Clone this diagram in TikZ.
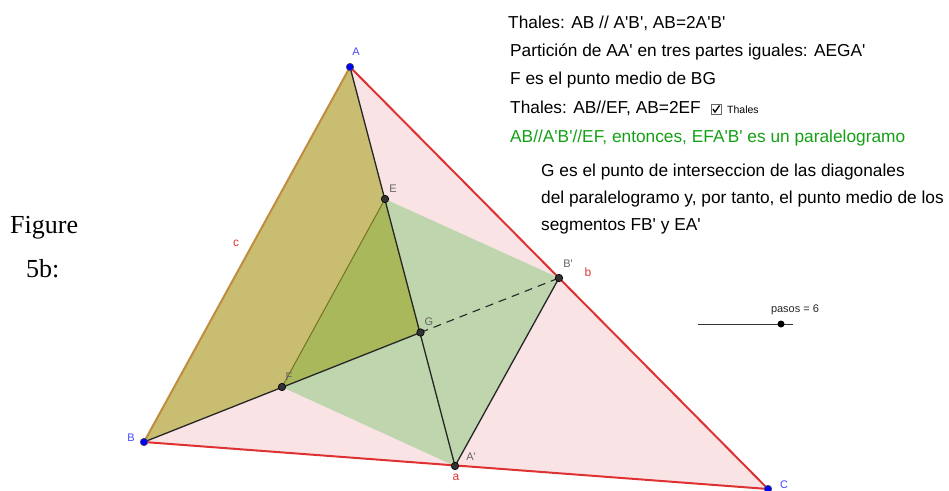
\documentclass[tikz,border=0pt]{standalone}
\usepackage{fontspec}
\setmainfont{Liberation Sans}[Ligatures=TeXOff]
\newfontfamily\figserif{Liberation Serif}
\definecolor{pinkfill}{RGB}{250,227,229}
\definecolor{olivefill}{RGB}{200,189,112}
\definecolor{greenfill}{RGB}{190,213,174}
\definecolor{darkolive}{RGB}{169,184,90}
\definecolor{redline}{RGB}{222,50,50}
\definecolor{abline}{RGB}{192,140,62}
\definecolor{efline}{RGB}{115,115,35}
\definecolor{txtgreen}{RGB}{20,160,20}
\definecolor{ptblue}{RGB}{0,0,255}
\definecolor{ptgray}{RGB}{50,50,50}
\definecolor{lblblue}{RGB}{70,70,255}
\definecolor{lblgray}{RGB}{100,100,100}
\definecolor{lblred}{RGB}{225,55,55}
\tikzset{
  bluedot/.style={circle,fill=ptblue,draw=black!70,line width=0.6pt,inner sep=0pt,minimum size=7.5pt},
  graydot/.style={circle,fill=ptgray,draw=black,line width=0.6pt,inner sep=0pt,minimum size=7.5pt},
  lbl/.style={inner sep=0pt,font=\fontsize{11}{13}\selectfont},
  maintxt/.style={anchor=base west,inner sep=0pt,font=\fontsize{17.3}{20}\selectfont},
  redseg/.style={draw=redline,line width=2pt},
  blackseg/.style={draw=black!85,line width=1.3pt},
}
\begin{document}
\begin{tikzpicture}[x=1pt,y=-1pt]
\useasboundingbox (0,0) rectangle (949,490);
% points
\coordinate (A) at (350,67);
\coordinate (B) at (144,442);
\coordinate (C) at (768,489);
\coordinate (A1) at (455,466);
\coordinate (B1) at (559,278);
\coordinate (E) at (385,199);
\coordinate (G) at (420.5,332.5);
\coordinate (F) at (282,387);
% fills
\fill[pinkfill] (A) -- (B) -- (C) -- cycle;
\fill[olivefill] (A) -- (B) -- (G) -- cycle;
\fill[greenfill] (E) -- (F) -- (A1) -- (B1) -- cycle;
\fill[darkolive] (E) -- (F) -- (G) -- cycle;
% segments
\draw[redseg] (A) -- (C);
\draw[redseg] (B) -- (C);
\draw[draw=abline,line width=2pt] (A) -- (B);
\draw[draw=efline,line width=1pt] (E) -- (F);
\draw[blackseg] (A) -- (A1);
\draw[blackseg] (B) -- (G);
\draw[blackseg] (A1) -- (B1);
\draw[draw=black!85,line width=1.1pt,dash pattern=on 8pt off 6pt] (G) -- (B1);
% dots
\node[bluedot] (dA) at (A) {};
\node[bluedot] (dB) at (B) {};
\node[bluedot] (dC) at (C) {};
\node[graydot] (dA1) at (A1) {};
\node[graydot] (dB1) at (B1) {};
\node[graydot] (dE) at (E) {};
\node[graydot] (dG) at (G) {};
\node[graydot] (dF) at (F) {};
% point labels
\node[lbl,text=lblblue] (lA) at (356,52) {A};
\node[lbl,text=lblblue] (lB) at (131,438) {B};
\node[lbl,text=lblblue] (lC) at (784,484.5) {C};
\node[lbl,text=lblgray] (lA1) at (471,457) {A'};
\node[lbl,text=lblgray] (lB1) at (568,264) {B'};
\node[lbl,text=lblgray] (lE) at (393,189) {E};
\node[lbl,text=lblgray] (lG) at (429,322) {G};
\node[lbl,text=lblgray] (lF) at (289,377) {F};
\node[lbl,text=lblred,font=\fontsize{12}{14}\selectfont] (la) at (456,477) {a};
\node[lbl,text=lblred,font=\fontsize{12}{14}\selectfont] (lb) at (588,272) {b};
\node[lbl,text=lblred,font=\fontsize{12}{14}\selectfont] (lc) at (236,243) {c};
% slider
\coordinate (s1) at (698,324);
\coordinate (s2) at (793,324);
\draw[black!80,line width=1pt] (s1) -- (s2);
\node[circle,fill=black,inner sep=0pt,minimum size=7pt] (sd) at (781,324) {};
\node[lbl,text=black!85] (sl) at (795,310) {pasos = 6};
% figure caption
\node[anchor=base west,inner sep=0pt,font=\figserif\fontsize{26}{30}\selectfont] (fig1) at (10,233) {Figure};
\node[anchor=base west,inner sep=0pt,font=\figserif\fontsize{26}{30}\selectfont] (fig2) at (26,277) {5b:};
% texts
\node[maintxt] (t1) at (508,28) {Thales: AB // A'B', AB=2A'B'};
\node[maintxt] (t2) at (510,56) {Partición de AA' en tres partes iguales: AEGA'};
\node[maintxt] (t3) at (510,84) {F es el punto medio de BG};
\node[maintxt] (t4) at (510,113) {Thales: AB//EF, AB=2EF};
\node[draw=black!60,line width=0.8pt,fill=white,minimum size=10pt,inner sep=0pt] (cb) at (716,109) {};
\draw[black,line width=1.3pt] ([shift={(-3,0)}]cb.center) -- ([shift={(-1,3)}]cb.center) -- ([shift={(3.5,-3.5)}]cb.center);
\node[anchor=base west,inner sep=0pt,font=\fontsize{10.5}{12}\selectfont] (t4b) at (727,113) {Thales};
\node[maintxt,text=txtgreen] (t5) at (510,142) {AB//A'B'//EF, entonces, EFA'B' es un paralelogramo};
\node[maintxt] (t6) at (541,176) {G es el punto de interseccion de las diagonales};
\node[maintxt] (t7) at (541,203) {del paralelogramo y, por tanto, el punto medio de los};
\node[maintxt] (t8) at (541,230) {segmentos FB' y EA'};
\end{tikzpicture}
\end{document}
